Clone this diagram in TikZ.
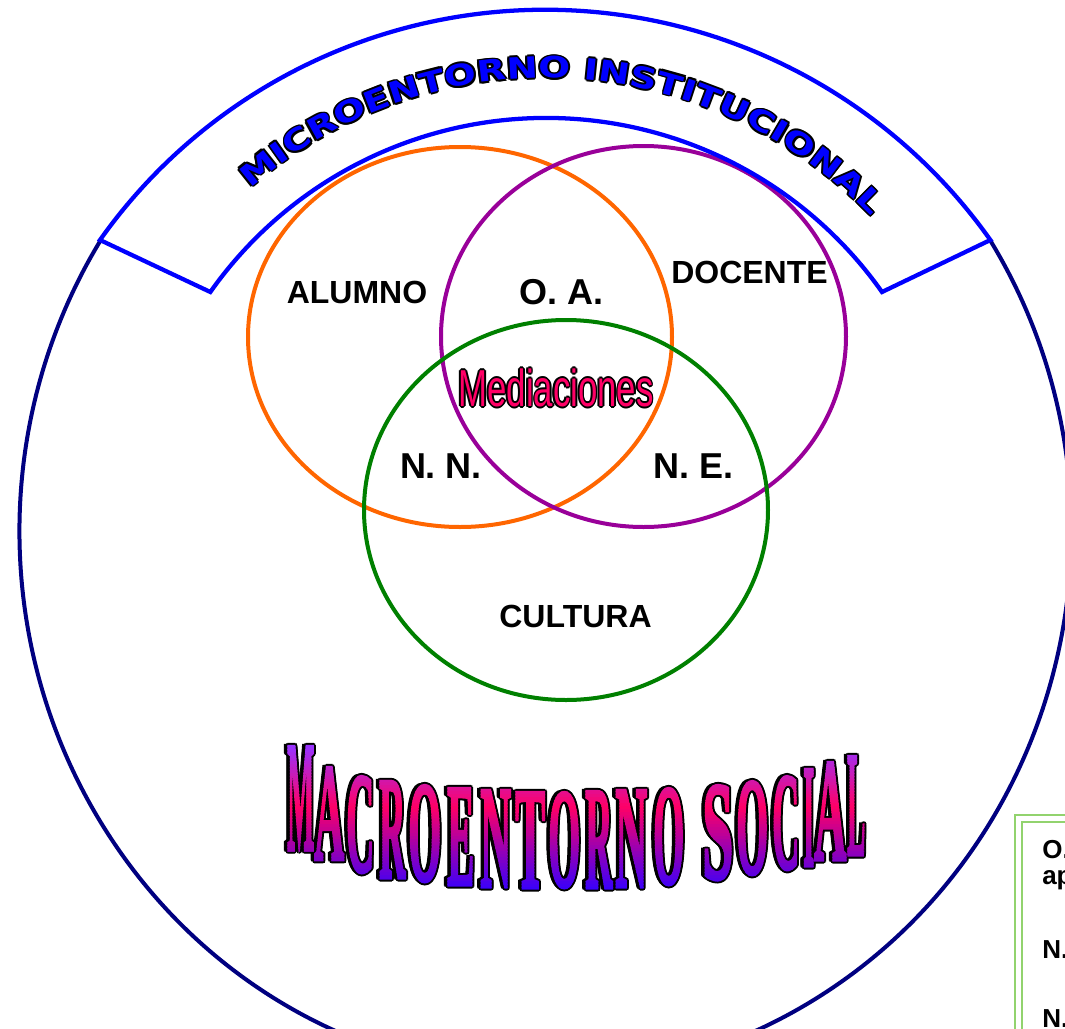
\documentclass[tikz,border=0pt]{standalone}
\usepackage{fontspec}
\usepackage{graphicx}
\setmainfont{Liberation Sans}
\newfontfamily\microfont[FakeStretch=1.28]{DejaVu Sans}
\newfontfamily\macrofont[BoldFeatures={FakeBold=2.5}]{Liberation Serif}
\usetikzlibrary{decorations.text}
\definecolor{navyc}{HTML}{000080}
\definecolor{bluec}{HTML}{0000FF}
\definecolor{orangec}{HTML}{FF6600}
\definecolor{purplec}{HTML}{990099}
\definecolor{greenc}{HTML}{008000}
\definecolor{pinkc}{HTML}{FF0066}
\definecolor{violetc}{HTML}{9933FF}
\definecolor{bluevc}{HTML}{3300FF}
\definecolor{boxgreen}{HTML}{92D36E}
\tikzset{
  ring/.style={line width=3pt},
  lbl/.style={font=\bfseries\fontsize{24}{24}\selectfont, inner sep=0pt},
  biglbl/.style={font=\bfseries\fontsize{27}{27}\selectfont, inner sep=0pt},
  boxtxt/.style={font=\bfseries\fontsize{19.5}{19.5}\selectfont, inner sep=0pt, anchor=base west},
  microtext/.style={decorate, decoration={text along path,
      text={|\microfont\bfseries\fontsize{22}{22}\selectfont|MICROENTORNO INSTITUCIONAL},
      text align=center, text color=#1}},
}
\newcommand\macroletters[1]{%
  \foreach \ch/\xl/\xr/\yt/\yb in {M/287/314/747/850, A/314/344/768/860, C/346/374/777/873,
      R/379/405/782/878, O/408/441/786/882, E/447/474/789/885, N/480/511/791/887,
      T/515/545/793/888, O/548/580/793/888, R/585/612/792/888, N/615/647/791/887,
      O/653/684/789/885, S/702/733/786/880, O/736/768/782/875, C/772/799/777/870,
      I/803/814/770/866, A/814/846/763/860, L/847/865/757/855}{%
    \pgfmathsetmacro\lw{(\xr-\xl)*0.75}%
    \pgfmathsetmacro\lh{(\yb-\yt)*0.75}%
    \node[inner sep=0pt, anchor=south west, text=#1] (mac-\xl) at (\xl,-\yb)
      {\resizebox*{\lw pt}{\lh pt}{\macrofont\bfseries\ch}};
  }}
\begin{document}
\begin{tikzpicture}[x=0.75pt,y=0.75pt]
\useasboundingbox (0,0) rectangle (1065,-1029);
\clip (0,0) rectangle (1065,-1029);
\fill[white] (0,0) rectangle (1065,-1029);

% outer navy contour (macro environment)
\draw[navyc, line width=3pt] (990,-240) arc[start angle=32.3, end angle=-212.3, x radius=526, y radius=545];

% ellipses
\draw[orangec, ring] (460,-337) ellipse [x radius=212, y radius=190];
\draw[purplec, ring] (643.5,-336.5) ellipse [x radius=202.5, y radius=190.5];
\draw[greenc, ring] (566,-510) ellipse [x radius=202, y radius=190];

% blue band (micro environment)
\draw[bluec, line width=3.2pt, line join=miter] (100,-240)
  arc[start angle=144.7, end angle=35.3, radius=545.5] -- (882,-292)
  arc[start angle=35.2, end angle=144.8, radius=411] -- cycle;

% arched title
\foreach \dx/\dy in {1.8/0,-1.8/0,0/1.8,0/-1.8,1.3/1.3,1.3/-1.3,-1.3/1.3,-1.3/-1.3}{
  \path[microtext=black, shift={(\dx,\dy)}] (546,-529) ++(132.5:451)
    arc[start angle=132.5, end angle=42.3, radius=451];
}
\path[microtext=bluec] (546,-529) ++(132.5:451)
    arc[start angle=132.5, end angle=42.3, radius=451];

% labels
\node[lbl] (alumno) at (357,-292) {ALUMNO};
\node[biglbl] (oa) at (561.5,-292) {O. A.};
\node[lbl] (docente) at (749.5,-272) {DOCENTE};
\node[biglbl] (nn) at (441,-466) {N. N.};
\node[biglbl] (ne) at (693.5,-466) {N. E.};
\node[lbl] (cultura) at (575.5,-616) {CULTURA};

% Mediaciones
\foreach \dx/\dy in {1.7/0,-1.7/0,0/1.7,0/-1.7,1.2/1.2,1.2/-1.2,-1.2/1.2,-1.2/-1.2}{
  \begin{scope}[shift={(\dx,\dy)}]
  \node[font=\fontsize{30}{30}\selectfont, text=black, xscale=0.87, yscale=1.3, inner sep=0pt] (med-o) at (556,-388) {Mediaciones};
  \end{scope}
}
\node[font=\fontsize{30}{30}\selectfont, text=pinkc, xscale=0.87, yscale=1.3, inner sep=0pt] (med) at (556,-388) {Mediaciones};

% MACROENTORNO SOCIAL
\foreach \dx/\dy in {2/0,-2/0,0/2,0/-2,1.4/1.4,1.4/-1.4,-1.4/1.4,-1.4/-1.4,-3/0,-3.5/1}{
  \begin{scope}[shift={(\dx,\dy)}]\macroletters{black}\end{scope}
}
\foreach \y in {740,743,...,893}{
  \pgfmathtruncatemacro\p{max(0,min(100,\y<805 ? 100*(\y-745)/60 : 100*(\y-805)/85))}
  \ifdim \y pt<805pt \colorlet{bandc}{pinkc!\p!violetc}\else\colorlet{bandc}{bluevc!\p!pinkc}\fi
  \begin{scope}
  \clip (270,-\y) rectangle (890,-\y-3.3);
  \macroletters{bandc}
  \end{scope}
}

% legend box (cut by the page edge)
\draw[boxgreen, line width=1.5pt] (1015,-815) rectangle (1200,-1200);
\draw[boxgreen, line width=1.5pt] (1022,-822) rectangle (1200,-1200);
\node[boxtxt] (l1) at (1042,-858) {O.};
\node[boxtxt] (l2) at (1042,-884) {ap};
\node[boxtxt] (l3) at (1042,-958) {N.};
\node[boxtxt] (l4) at (1042,-1027) {N.};
\end{tikzpicture}
\end{document}
